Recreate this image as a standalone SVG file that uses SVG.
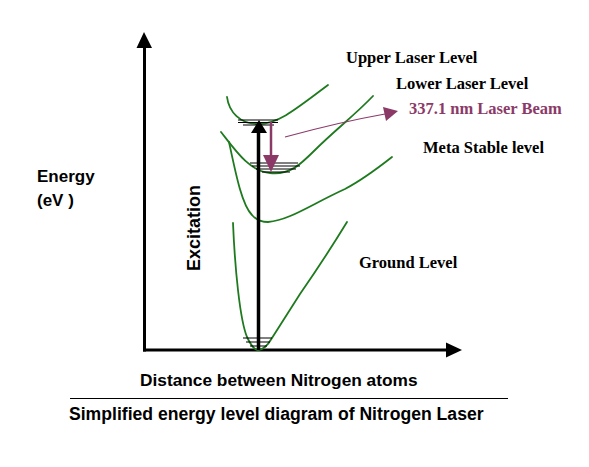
<svg xmlns="http://www.w3.org/2000/svg" width="589" height="467" viewBox="0 0 589 467">
<style>
.curve{fill:none;stroke:#1f7a1f;stroke-width:1.8;stroke-linecap:round}
.lvl{stroke:#000;stroke-width:1}
.ser{font-family:"Liberation Serif","Times New Roman",serif;font-weight:bold;font-size:16.5px;fill:#000}
.sans{font-family:"Liberation Sans",Arial,sans-serif;font-weight:bold;fill:#000}
.purple{fill:#8b3a68}
</style>
<rect width="589" height="467" fill="#fff"/>
<g id="axes">
<line x1="144.5" y1="46" x2="144.5" y2="351.5" stroke="#000" stroke-width="3"/>
<polygon points="144,32 136.5,48 152,48" fill="#000"/>
<line x1="143" y1="350" x2="448" y2="350" stroke="#000" stroke-width="3"/>
<polygon points="462,350 446,342.5 446,357.5" fill="#000"/>
</g>
<g id="ground-curve">
<path class="curve" d="M233,223 C235,270 240,320 247,337 Q253,350 258,350 Q265,350 272,338 L300,294 Q325,258 347,222"/>
<line class="lvl" x1="243" y1="338" x2="272" y2="338"/>
<line class="lvl" x1="246" y1="342" x2="270" y2="342"/>
<line class="lvl" x1="250" y1="346" x2="267" y2="346"/>
</g>
<g id="metastable-curve">
<path class="curve" d="M229,142 C236,175 242,205 252,215 Q258,222 268,222 C290,220 310,205 345,189 C362,180 378,168 392,157"/>
</g>
<g id="lower-laser-curve">
<path class="curve" d="M221,132 C235,150 250,172 270,173 C290,175 300,165 315,150 C335,130 355,115 373,96"/>
<line class="lvl" x1="250" y1="163" x2="298" y2="163"/>
<line class="lvl" x1="252" y1="166" x2="300" y2="166"/>
<line class="lvl" x1="256" y1="169" x2="296" y2="169"/>
<line class="lvl" x1="262" y1="172" x2="290" y2="172"/>
</g>
<g id="upper-laser-curve">
<path class="curve" d="M227,97 C229,112 240,124 258,124 C278,124 295,110 328,85"/>
<line class="lvl" x1="238" y1="120" x2="278" y2="120"/>
<line class="lvl" x1="238" y1="122.5" x2="278" y2="122.5"/>
<line class="lvl" x1="243" y1="125" x2="274" y2="125"/>
</g>
<g id="connectors">
<line x1="258.5" y1="350" x2="258.5" y2="132" stroke="#000" stroke-width="3.5"/>
<polygon points="259,120 251,133 267,133" fill="#000"/>
<line x1="271" y1="122" x2="271" y2="157" stroke="#8b3a68" stroke-width="2.5"/>
<polygon class="purple" points="263,155 279,155 271,172"/>
<path d="M285,137 Q340,122 385,114" fill="none" stroke="#8b3a68" stroke-width="1.2"/>
<polygon class="purple" points="398,111 383,107 386,121"/>
</g>
<g id="labels">
<text class="ser" x="346" y="63">Upper Laser Level</text>
<text class="ser" x="396" y="89">Lower Laser Level</text>
<text class="ser purple" x="409" y="114">337.1 nm Laser Beam</text>
<text class="ser" x="423" y="153">Meta Stable level</text>
<text class="ser" x="359" y="268">Ground Level</text>
<text class="sans" x="37" y="182" font-size="17">Energy</text>
<text class="sans" x="37" y="206" font-size="17">(eV )</text>
<text class="sans" font-size="18" transform="translate(200,271) rotate(-90)">Excitation</text>
<text class="sans" x="140" y="386" font-size="17.3">Distance between Nitrogen atoms</text>
<line x1="70" y1="398.5" x2="508" y2="398.5" stroke="#000" stroke-width="1"/>
<text class="sans" x="69" y="420" font-size="17.6">Simplified energy level diagram of Nitrogen Laser</text>
</g>
</svg>
